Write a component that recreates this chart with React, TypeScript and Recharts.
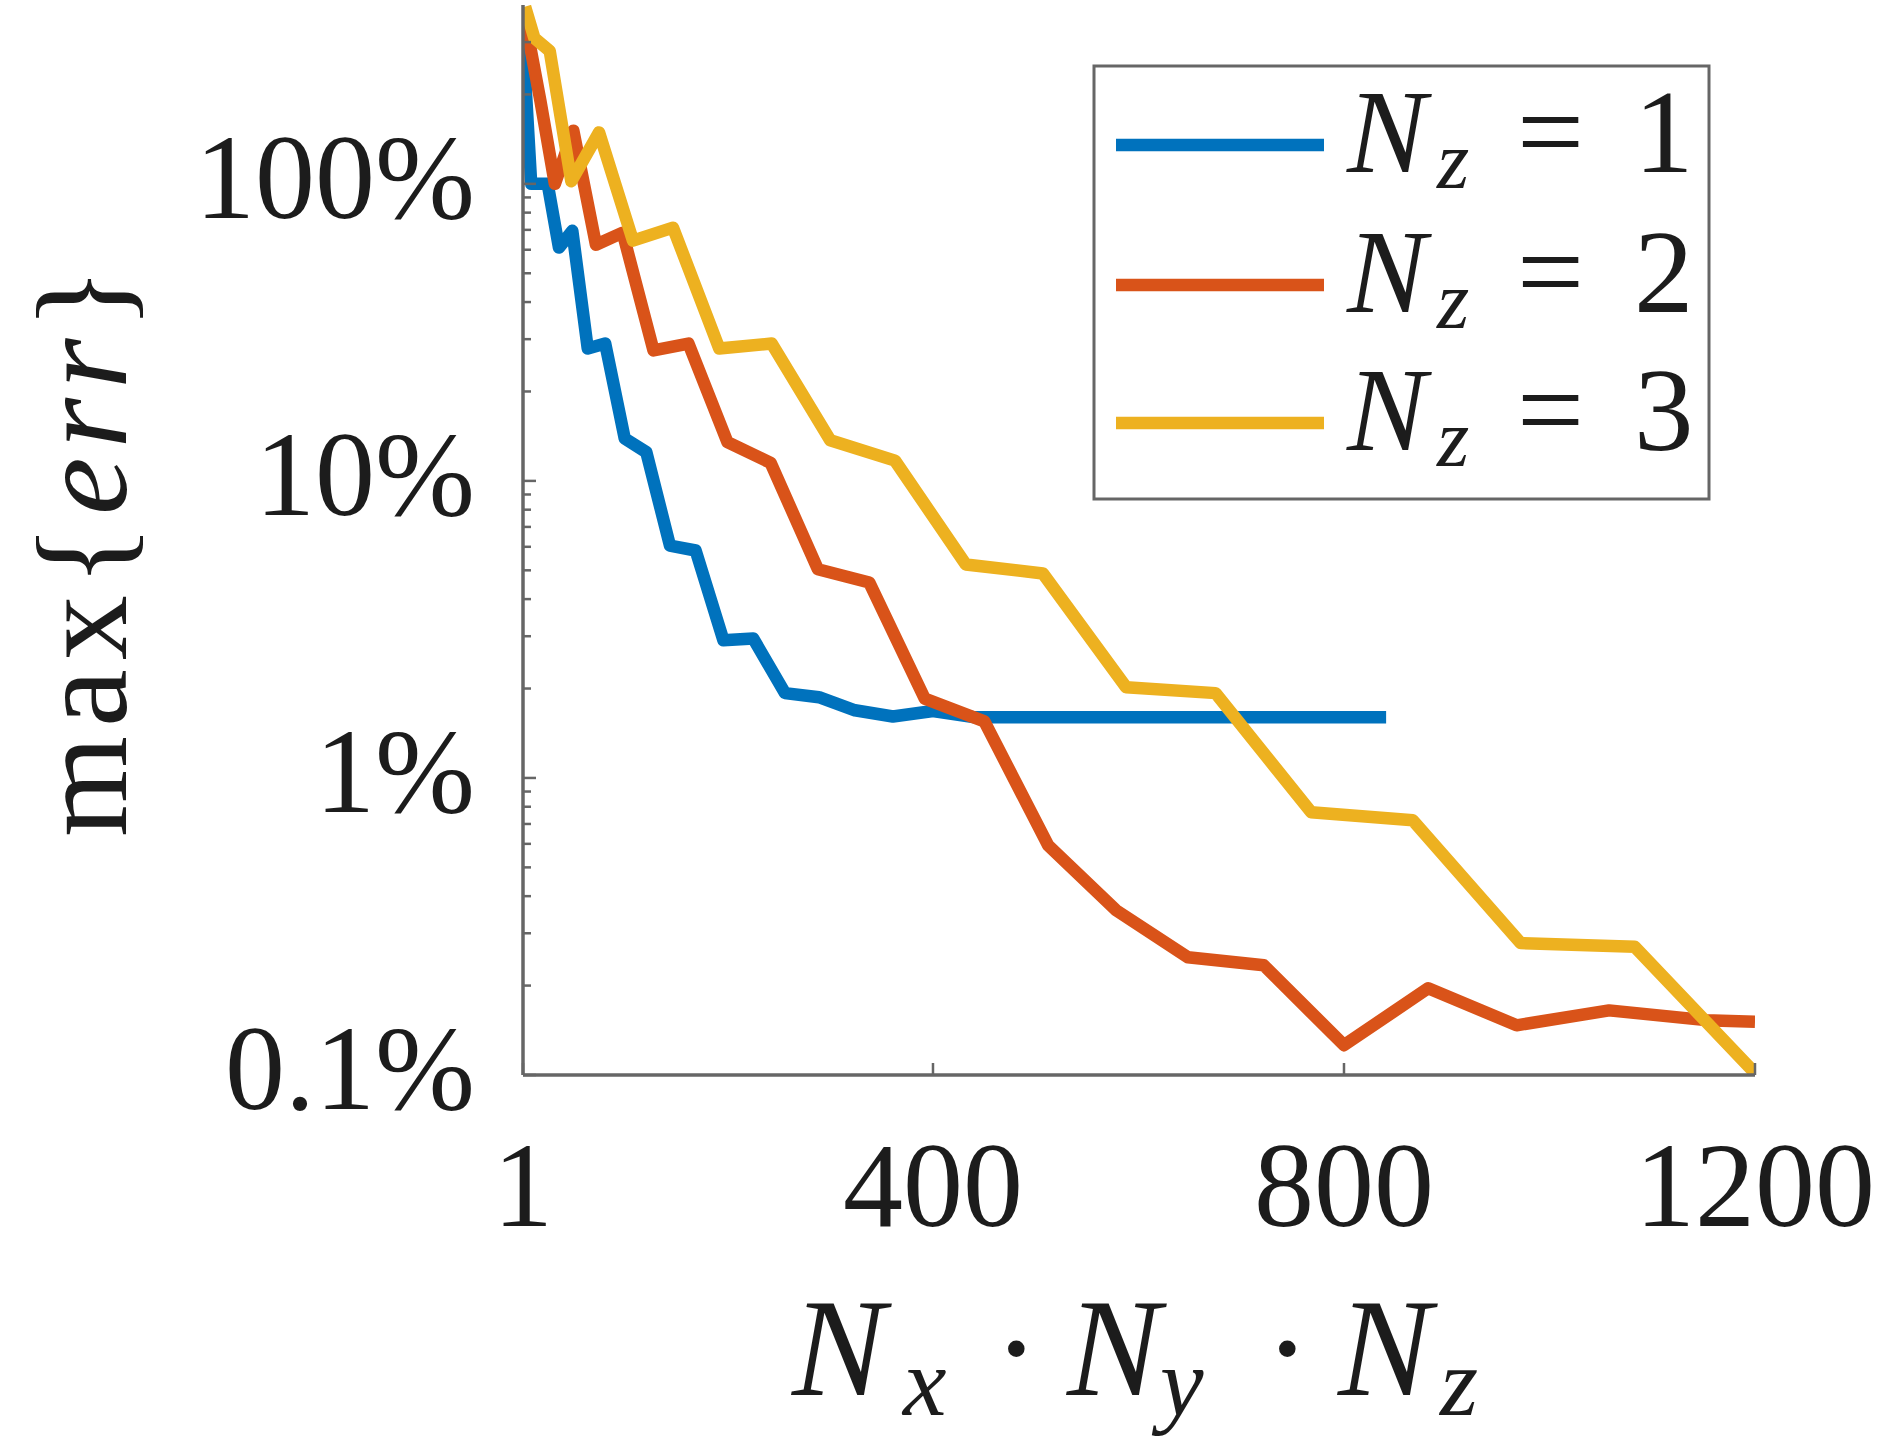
import React from 'react';
import { LineChart, Line, XAxis, YAxis } from 'recharts';

// ---- data ----
// N_z = 1 : N = Nx*Ny*Nz
const NZ1_X = [1, 4, 9, 16, 25, 36, 49, 64, 81, 100, 121, 144, 169, 196, 225, 256, 289, 324, 361, 400, 441, 484, 529, 576, 625, 676, 729, 784, 841];
const NZ1_ERR = [320, 200, 100, 100, 100, 61, 69.5, 27.9, 29.0, 13.9, 12.5, 6.06, 5.83, 2.91, 2.95, 1.93, 1.87, 1.69, 1.61, 1.68, 1.6, 1.6, 1.6, 1.6, 1.6, 1.6, 1.6, 1.6, 1.6];

// N_z = 2
const NZ2_X = [2, 8, 18, 32, 50, 72, 98, 128, 162, 200, 242, 288, 338, 392, 450, 512, 578, 648, 722, 800, 882, 968, 1058, 1152, 1200];
const NZ2_ERR = [371, 290, 190, 100, 151, 62.4, 68.5, 27.5, 29.0, 13.5, 11.5, 5.04, 4.55, 1.85, 1.55, 0.594, 0.359, 0.249, 0.234, 0.126, 0.196, 0.147, 0.165, 0.153, 0.151];

// N_z = 3
const NZ3_X = [3, 12, 27, 48, 75, 108, 147, 192, 243, 300, 363, 432, 507, 588, 675, 768, 867, 972, 1083, 1200];
const NZ3_ERR = [395, 310, 280, 102, 149, 64.4, 71.2, 27.9, 29.0, 13.7, 11.7, 5.23, 4.88, 2.02, 1.93, 0.767, 0.72, 0.278, 0.27, 0.1015];

const NZ_VALUES = [1, 2, 3];
const SERIES_COLORS = ['#0072BD', '#D95319', '#EDB120'];

const X_TICKS = [1, 400, 800, 1200];
const X_TICK_LABELS = ['1', '400', '800', '1200'];
const X_DOMAIN = [1, 1200];

const Y_MAJOR = [0.1, 1, 10, 100];
const Y_MAJOR_LABELS = ['0.1%', '1%', '10%', '100%'];
const Y_MINOR = [0.2, 0.3, 0.4, 0.5, 0.6, 0.7, 0.8, 0.9, 2, 3, 4, 5, 6, 7, 8, 9, 20, 30, 40, 50, 60, 70, 80, 90, 200, 300];
const Y_DOMAIN = [0.1, 400];

// ---- styling ----
const W = 1894;
const H = 1441;
const FONT = '"Liberation Serif", "Times New Roman", serif';
const AXIS = '#666666';
const TEXT = '#1c1c1c';
const LINE_W = 12.5;

const SERIES = [
  { id: 'nz1', xs: NZ1_X, ys: NZ1_ERR },
  { id: 'nz2', xs: NZ2_X, ys: NZ2_ERR },
  { id: 'nz3', xs: NZ3_X, ys: NZ3_ERR },
].map((s, i) => ({
  ...s,
  nz: NZ_VALUES[i],
  color: SERIES_COLORS[i],
  rows: s.xs.map((x, j) => ({ n: x, err: s.ys[j] })),
}));

const Y_ALL = [...Y_MAJOR, ...Y_MINOR].sort((a, b) => a - b);

function YLeftTick(props: any) {
  const { x, y, payload } = props;
  const i = Y_MAJOR.indexOf(payload.value);
  if (i < 0) {
    return <line x1={x} x2={x + 8} y1={y} y2={y} stroke={AXIS} strokeWidth={2.5} />;
  }
  return (
    <g>
      <line x1={x} x2={x + 13} y1={y} y2={y} stroke={AXIS} strokeWidth={2.5} />
      <text x={x - 48} y={y + 34} textAnchor="end" fontSize={120} fontFamily={FONT} fill={TEXT}>
        {Y_MAJOR_LABELS[i]}
      </text>
    </g>
  );
}

function YRightTick(props: any) {
  const { x, y, payload } = props;
  const major = Y_MAJOR.indexOf(payload.value) >= 0;
  return <line x1={x} x2={x - (major ? 13 : 8)} y1={y} y2={y} stroke={AXIS} strokeWidth={2.5} />;
}

function XBottomTick(props: any) {
  const { x, y, payload } = props;
  const i = X_TICKS.indexOf(payload.value);
  return (
    <g>
      <line x1={x} x2={x} y1={y} y2={y - 12} stroke={AXIS} strokeWidth={2.5} />
      <text x={x} y={y + 151} textAnchor="middle" fontSize={120} fontFamily={FONT} fill={TEXT}>
        {X_TICK_LABELS[i]}
      </text>
    </g>
  );
}

function XTopTick(props: any) {
  const { x, y } = props;
  return <line x1={x} x2={x} y1={y} y2={y + 12} stroke={AXIS} strokeWidth={2.5} />;
}

function Overlay() {
  const legendRows = [145, 285, 423];
  return (
    <svg width={W} height={H} style={{ position: 'absolute', left: 0, top: 0 }}>
      {/* y label */}
      <text
        x={126}
        y={552}
        transform="rotate(-90 126 552)"
        textAnchor="middle"
        fontSize={130}
        textLength={570}
        lengthAdjust="spacing"
        fontFamily={FONT}
        fill={TEXT}
      >
        <tspan>max</tspan>
        <tspan>{'{'}</tspan>
        <tspan fontStyle="italic">err</tspan>
        <tspan>{'}'}</tspan>
      </text>
      {/* x label */}
      <text y={1395} fontSize={140} fontFamily={FONT} fill={TEXT}>
        <tspan x={792} fontStyle="italic">N</tspan>
        <tspan x={903} dy={20} fontSize={98} fontStyle="italic">x</tspan>
        <tspan x={993} dy={-20}>·</tspan>
        <tspan x={1067} fontStyle="italic">N</tspan>
        <tspan x={1160} dy={20} fontSize={98} fontStyle="italic">y</tspan>
        <tspan x={1264} dy={-20}>·</tspan>
        <tspan x={1338} fontStyle="italic">N</tspan>
        <tspan x={1440} dy={20} fontSize={98} fontStyle="italic">z</tspan>
      </text>
      {/* legend */}
      <rect x={1094} y={66} width={615} height={433} fill="#ffffff" stroke={AXIS} strokeWidth={3} />
      {SERIES.map((s, i) => (
        <g key={s.id}>
          <line x1={1116} x2={1324} y1={legendRows[i]} y2={legendRows[i]} stroke={s.color} strokeWidth={LINE_W} />
          <text y={legendRows[i] + 27} fontSize={119} fontFamily={FONT} fill={TEXT}>
            <tspan x={1347} fontStyle="italic">N</tspan>
            <tspan x={1437} dy={16} fontSize={83} fontStyle="italic">z</tspan>
            <tspan x={1517} dy={-16}>=</tspan>
            <tspan x={1634}>{String(s.nz)}</tspan>
          </text>
        </g>
      ))}
    </svg>
  );
}

export default function App() {
  return (
    <div style={{ position: 'absolute', left: 0, top: 0, width: W, height: H, background: '#ffffff' }}>
      <div style={{ position: 'absolute', left: 0, top: 0 }}>
        <LineChart width={W} height={H} margin={{ top: 5, right: 139, bottom: 0, left: 0 }}>
          <XAxis
            xAxisId="b"
            dataKey="n"
            type="number"
            orientation="bottom"
            domain={X_DOMAIN}
            allowDataOverflow
            ticks={X_TICKS}
            interval={0}
            height={366}
            tickSize={0}
            tickMargin={0}
            tickLine={false}
            axisLine={{ stroke: AXIS, strokeWidth: 3.5 }}
            tick={<XBottomTick />}
          />
          <XAxis
            xAxisId="t"
            dataKey="n"
            type="number"
            orientation="top"
            domain={X_DOMAIN}
            allowDataOverflow
            ticks={X_TICKS}
            interval={0}
            height={0}
            tickSize={0}
            tickMargin={0}
            tickLine={false}
            axisLine={{ stroke: AXIS, strokeWidth: 3.5 }}
            tick={<XTopTick />}
          />
          <YAxis
            yAxisId="l"
            dataKey="err"
            orientation="left"
            scale="log"
            type="number"
            domain={Y_DOMAIN}
            allowDataOverflow
            ticks={Y_ALL}
            interval={0}
            width={523}
            tickSize={0}
            tickMargin={0}
            tickLine={false}
            axisLine={{ stroke: AXIS, strokeWidth: 3.5 }}
            tick={<YLeftTick />}
          />
          <YAxis
            yAxisId="r"
            dataKey="err"
            orientation="right"
            scale="log"
            type="number"
            domain={Y_DOMAIN}
            allowDataOverflow
            ticks={Y_ALL}
            interval={0}
            width={0}
            tickSize={0}
            tickMargin={0}
            tickLine={false}
            axisLine={{ stroke: AXIS, strokeWidth: 3.5 }}
            tick={<YRightTick />}
          />
          {SERIES.map((s) => (
            <Line
              key={s.id}
              name={`N_z = ${s.nz}`}
              data={s.rows}
              dataKey="err"
              xAxisId="b"
              yAxisId="l"
              type="linear"
              stroke={s.color}
              strokeWidth={LINE_W}
              strokeLinejoin="round"
              strokeLinecap="butt"
              dot={false}
              activeDot={false}
              isAnimationActive={false}
            />
          ))}
        </LineChart>
      </div>
      <Overlay />
    </div>
  );
}
